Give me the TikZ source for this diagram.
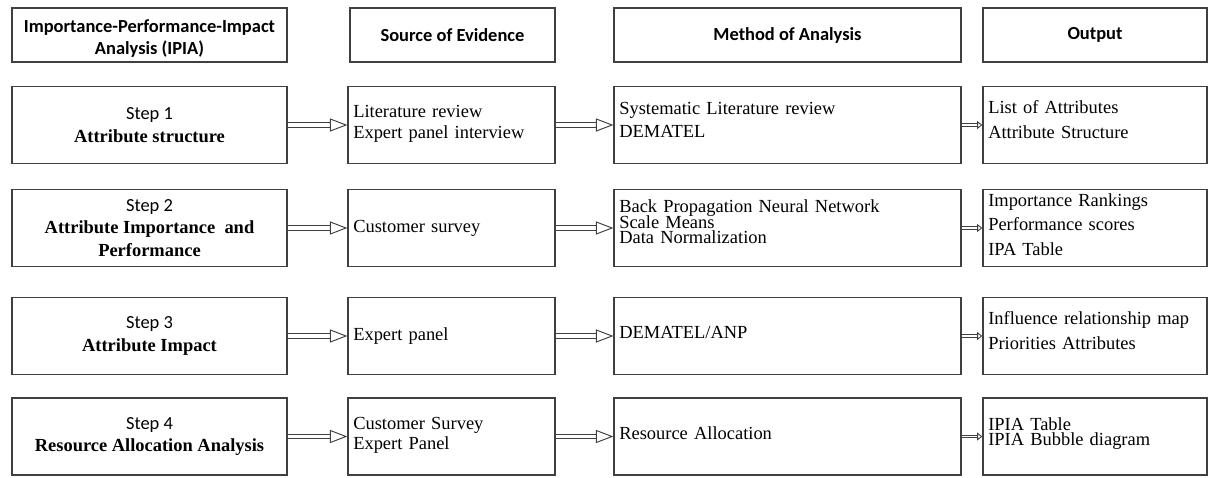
\documentclass[tikz,border=0pt]{standalone}
\usepackage{fontspec}
\setmainfont{Liberation Serif}
\newfontfamily\calibri{Carlito}
\usetikzlibrary{arrows.meta}
\newcommand\tightlines{\lineskiplimit=-\maxdimen\relax}

\begin{document}
\begin{tikzpicture}[x=0.02cm, y=-0.02cm,
  box/.style={draw=black!75, line width=0.7pt, minimum height=1.54cm, inner xsep=3pt, inner ysep=0pt},
  hdrbox/.style={box, minimum height=1.08cm, align=center, font=\calibri\bfseries\fontsize{10.5}{12.5}\selectfont},
  stepbox/.style={box, minimum width=5.5cm, align=center, font=\fontsize{10.5}{12.7}\selectfont},
  cellbox/.style={box, align=left, text width=#1},
  lead/.style={font=\fontsize{10.5}{#1}\selectfont\tightlines},
  raise/.style={text height=0pt, text depth=#1},
  sink/.style={text height=#1, text depth=0pt},
  bigarrow/.style={draw=black!75, line width=0.55pt, double=white, double distance=1.9pt, -{Triangle[open, length=10pt, width=7.5pt]}},
  smallarrow/.style={draw=black!75, line width=0.5pt, double=white, double distance=1.1pt, -{Triangle[open, length=3pt, width=4.5pt]}}]
\useasboundingbox (0,0) rectangle (1211,477);

\pgfmathsetmacro{\colA}{149.5}
\pgfmathsetmacro{\colB}{451.5}
\pgfmathsetmacro{\colC}{787.5}
\pgfmathsetmacro{\colD}{1095}

% Draw header row
\node[hdrbox, minimum width=5.5cm, sink=21.8pt] (hIPIA) at (\colA,35) {Importance-Performance-Impact\\Analysis (IPIA)};
\node[hdrbox, minimum width=4.1cm] (hSrc) at (452.5,35) {Source of Evidence};
\node[hdrbox, minimum width=6.94cm] (hMeth) at (\colC,35) {Method of Analysis};
\node[hdrbox, minimum width=4.48cm] (hOut) at (\colD,35) {Output};

% Draw steps
\node[stepbox] (step1) at (\colA,125) {{\calibri Step 1}\\\textbf{Attribute structure}};
\node[stepbox] (step2) at (\colA,228) {{\calibri Step 2}\\\textbf{Attribute Importance\ \ and}\\\textbf{Performance}};
\node[stepbox] (step3) at (\colA,336) {{\calibri Step 3}\\\textbf{Attribute Impact}};
\node[stepbox] (step4) at (\colA,436.5) {{\calibri Step 4}\\\textbf{Resource Allocation Analysis}};

% Draw sources of evidence
\node[cellbox=3.93cm, lead=12pt, raise=9pt] (src1) at (\colB,125) {Literature review\\Expert panel interview};
\node[cellbox=3.93cm, lead=12pt] (src2) at (\colB,228) {Customer survey};
\node[cellbox=3.93cm, lead=12pt] (src3) at (\colB,336) {Expert panel};
\node[cellbox=3.93cm, lead=11.5pt, raise=8pt] (src4) at (\colB,436.5) {Customer Survey\\Expert Panel};

% Draw methods of analysis
\node[cellbox=6.73cm, lead=13.6pt, raise=12.5pt] (meth1) at (\colC,125) {Systematic Literature review\\DEMATEL};
\node[cellbox=6.73cm, lead=8.8pt, raise=17.5pt] (meth2) at (\colC,228) {Back Propagation Neural Network\\Scale Means\\Data Normalization};
\node[cellbox=6.73cm, lead=12pt, sink=3.4pt] (meth3) at (\colC,336) {DEMATEL/ANP};
\node[cellbox=6.73cm, lead=12pt, sink=3.4pt] (meth4) at (\colC,436.5) {Resource Allocation};

% Draw outputs
\node[cellbox=4.27cm, lead=14.2pt, raise=13.6pt] (out1) at (\colD,125) {List of Attributes\\Attribute Structure};
\node[cellbox=4.27cm, lead=14.2pt, raise=25pt] (out2) at (\colD,228) {Importance Rankings\\Performance scores\\IPA Table};
\node[cellbox=4.27cm, lead=14pt, raise=13pt] (out3) at (\colD,336) {Influence relationship map\\Priorities Attributes};
\node[cellbox=4.27cm, lead=8.8pt, raise=7pt] (out4) at (\colD,436.5) {IPIA Table\\IPIA Bubble diagram};

% Draw arrows
\foreach \i in {1,...,4}{
  \draw[bigarrow] (step\i.east) -- (src\i.west);
  \draw[bigarrow] (src\i.east) -- (meth\i.west);
  \draw[smallarrow] (meth\i.east) -- (out\i.west);
}
\end{tikzpicture}
\end{document}
